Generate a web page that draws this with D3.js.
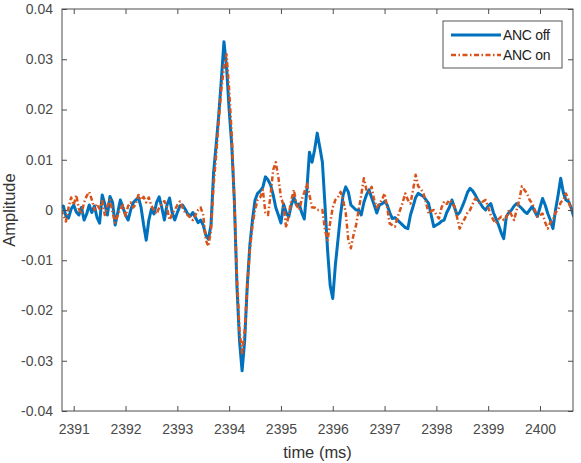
<!DOCTYPE html>
<html><head><meta charset="utf-8">
<script src="https://cdn.jsdelivr.net/npm/d3@7"></script>
<style>body{margin:0;background:#fff}</style>
</head><body><svg id="c" width="581" height="463"></svg>
<script>
// sampling grid of the recording (ms)
const t0 = 2390.75, dt = 0.05;

// ANC off (blue, solid)
const ancOff = [
 0.0005, 0.0008,-0.0012,-0.0016, 0.0002, 0.0010,-0.0004,-0.0010, 0.0005,-0.0020,
-0.0008, 0.0010,-0.0005, 0.0008,-0.0015,-0.0026, 0.0030, 0.0012,-0.0010, 0.0027,
 0.0015,-0.0030,-0.0005, 0.0020, 0.0005,-0.0010,-0.0020, 0.0000, 0.0015, 0.0020,
 0.0025, 0.0005,-0.0030,-0.0060,-0.0020, 0.0002,-0.0008, 0.0015, 0.0026, 0.0005,
-0.0020, 0.0010, 0.0024,-0.0005,-0.0020,-0.0005, 0.0008, 0.0010, 0.0002,-0.0008,
-0.0012,-0.0005,-0.0015,-0.0025,-0.0020,-0.0030,-0.0050,-0.0058,-0.0030, 0.0075,
 0.0130, 0.0190, 0.0260, 0.0335, 0.0285, 0.0200, 0.0130, 0.0020,-0.0150,-0.0260,
-0.0320,-0.0260,-0.0150,-0.0070,-0.0020, 0.0020, 0.0033, 0.0038, 0.0045, 0.0066,
 0.0060, 0.0050, 0.0030, 0.0005,-0.0010,-0.0026, 0.0012,-0.0005,-0.0014, 0.0010,
 0.0025, 0.0010, 0.0012,-0.0005,-0.0018, 0.0040, 0.0115, 0.0095, 0.0120, 0.0153,
 0.0125, 0.0095, 0.0010,-0.0080,-0.0150,-0.0176,-0.0110,-0.0060,-0.0010, 0.0030,
 0.0046, 0.0036, 0.0010, 0.0005, 0.0000, 0.0000,-0.0010, 0.0015, 0.0030, 0.0040,
 0.0025, 0.0010,-0.0006, 0.0010, 0.0012, 0.0017, 0.0010,-0.0005,-0.0017,-0.0015,
-0.0020,-0.0025,-0.0030,-0.0035,-0.0037,-0.0010, 0.0007, 0.0025, 0.0033, 0.0030,
 0.0027, 0.0020, 0.0013,-0.0010,-0.0033,-0.0030,-0.0027,-0.0022,-0.0020,-0.0005,
 0.0005, 0.0020, 0.0005,-0.0010,-0.0005, 0.0007, 0.0020, 0.0035, 0.0043, 0.0038,
 0.0030, 0.0020, 0.0013, 0.0005, 0.0000, 0.0008, 0.0013,-0.0005,-0.0017,-0.0030,
-0.0045,-0.0057,-0.0013,-0.0005, 0.0000, 0.0008, 0.0013, 0.0008, 0.0003,-0.0003,
-0.0007, 0.0000, 0.0007,-0.0003,-0.0013, 0.0005, 0.0023, 0.0010,-0.0007,-0.0020,
-0.0037, 0.0000, 0.0030, 0.0063, 0.0035, 0.0020, 0.0017, 0.0005,-0.0013
];

// ANC on (orange, dash-dot)
const ancOn = [
 0.0000,-0.0010,-0.0023, 0.0005, 0.0025, 0.0010, 0.0030, 0.0002,-0.0008, 0.0015,
 0.0028, 0.0036, 0.0020, 0.0000, 0.0012, 0.0002, 0.0018,-0.0010, 0.0008, 0.0020,
-0.0005,-0.0025,-0.0010, 0.0002, 0.0010,-0.0012, 0.0008, 0.0015, 0.0005, 0.0012,
 0.0030, 0.0020, 0.0026, 0.0015, 0.0025, 0.0008, 0.0000,-0.0008, 0.0005, 0.0012,
 0.0018, 0.0005,-0.0020,-0.0008, 0.0000, 0.0010, 0.0017, 0.0005,-0.0005,-0.0010,
-0.0015,-0.0020,-0.0010, 0.0000, 0.0005,-0.0010,-0.0060,-0.0072,-0.0040, 0.0050,
 0.0110, 0.0180, 0.0240, 0.0285, 0.0310, 0.0240, 0.0150, 0.0020,-0.0130,-0.0240,
-0.0285,-0.0240,-0.0150,-0.0080,-0.0030, 0.0000, 0.0020, 0.0025, 0.0040,-0.0005,
-0.0010, 0.0030, 0.0080, 0.0095, 0.0065, 0.0025, 0.0010,-0.0035,-0.0010, 0.0020,
 0.0040, 0.0010, 0.0000, 0.0020, 0.0035, 0.0052, 0.0030, 0.0005, 0.0005, 0.0000,
 0.0000, 0.0000,-0.0040,-0.0060,-0.0025, 0.0005, 0.0020, 0.0025, 0.0036, 0.0020,
-0.0005,-0.0060,-0.0076,-0.0050,-0.0030, 0.0000, 0.0030, 0.0063, 0.0040, 0.0035,
 0.0046, 0.0020, 0.0005, 0.0013, 0.0020, 0.0033, 0.0005,-0.0027,-0.0030,-0.0033,
-0.0015, 0.0000, 0.0015, 0.0033, 0.0020, 0.0013, 0.0040, 0.0070, 0.0047, 0.0042,
 0.0033, 0.0015,-0.0007,-0.0002, 0.0000,-0.0010,-0.0017, 0.0005, 0.0017, 0.0012,
 0.0020, 0.0015, 0.0007,-0.0015,-0.0037,-0.0025,-0.0017,-0.0005, 0.0000, 0.0012,
 0.0023, 0.0018, 0.0013, 0.0017, 0.0020, 0.0005,-0.0010,-0.0020,-0.0027,-0.0018,
-0.0013,-0.0020,-0.0015, 0.0000,-0.0010,-0.0020, 0.0000, 0.0020, 0.0047, 0.0040,
 0.0033, 0.0020, 0.0013, 0.0000,-0.0013,-0.0010,-0.0007,-0.0025,-0.0037,-0.0025,
-0.0020,-0.0005, 0.0000, 0.0015, 0.0020, 0.0033, 0.0020, 0.0000, 0.0005
];

const xTickValues = [2391, 2392, 2393, 2394, 2395, 2396, 2397, 2398, 2399, 2400];
const yTickValues = [-0.04, -0.03, -0.02, -0.01, 0, 0.01, 0.02, 0.03, 0.04];
const seriesNames = ["ANC off", "ANC on"];
const xDomain = [2390.774, 2400.637];
const yDomain = [-0.04, 0.04];

const time = ancOff.map((_, i) => +(t0 + i * dt).toFixed(2));

const L = 62, R = 573, T = 9, B = 411;
const svg = d3.select("#c");
const font = "'Liberation Sans', Arial, sans-serif";
const axisCol = "#4d4d4d", textCol = "#4a4a4a";

const x = d3.scaleLinear().domain(xDomain).range([L, R]);
const y = d3.scaleLinear().domain(yDomain).range([B, T]);

svg.append("defs").append("clipPath").attr("id", "clip")
  .append("rect").attr("x", L).attr("y", T).attr("width", R - L).attr("height", B - T);

const styles = [
  {c: "#0072BD", w: 3, da: null},
  {c: "#D95319", w: 2.5, da: "5,2.5,1.5,2.5"}
];

// data lines
const line = d3.line().x(d => x(d[0])).y(d => y(d[1]));
const g = svg.append("g").attr("clip-path", "url(#clip)");
[ancOff, ancOn].forEach((vals, k) => {
  g.append("path").datum(time.map((t, i) => [t, vals[i]]))
    .attr("d", line).attr("fill", "none").attr("stroke", styles[k].c)
    .attr("stroke-width", styles[k].w).attr("stroke-linejoin", "round")
    .attr("stroke-dasharray", styles[k].da);
});

// axes
function styleAxis(sel, showText) {
  sel.select(".domain").remove();
  sel.selectAll(".tick line").attr("stroke", axisCol).attr("stroke-width", 1);
  sel.selectAll("text").attr("fill", textCol).style("font-family", font).style("font-size", "14px");
  if (!showText) sel.selectAll("text").remove();
}
const fmtY = d => d === 0 ? "0" : d.toFixed(2);
svg.append("g").attr("transform", `translate(0,${B})`)
  .call(d3.axisBottom(x).tickValues(xTickValues).tickSize(-5).tickPadding(13).tickFormat(d3.format("d")))
  .call(s => styleAxis(s, true));
svg.append("g").attr("transform", `translate(0,${T})`)
  .call(d3.axisTop(x).tickValues(xTickValues).tickSize(-5))
  .call(s => styleAxis(s, false));
svg.append("g").attr("transform", `translate(${L},0)`)
  .call(d3.axisLeft(y).tickValues(yTickValues).tickSize(-5).tickPadding(9).tickFormat(fmtY))
  .call(s => styleAxis(s, true));
svg.append("g").attr("transform", `translate(${R},0)`)
  .call(d3.axisRight(y).tickValues(yTickValues).tickSize(-5))
  .call(s => styleAxis(s, false));

svg.append("rect").attr("x", L).attr("y", T).attr("width", R - L).attr("height", B - T)
  .attr("fill", "none").attr("stroke", axisCol).attr("stroke-width", 1);

// axis labels
svg.append("text").attr("x", (L + R) / 2).attr("y", 458).attr("text-anchor", "middle")
  .attr("fill", "#333").style("font-family", font).style("font-size", "16.5px").text("time (ms)");
svg.append("text").attr("transform", `translate(15,${(T + B) / 2}) rotate(-90)`)
  .attr("text-anchor", "middle").attr("fill", "#333")
  .style("font-family", font).style("font-size", "16.5px").text("Amplitude");

// legend
const lg = svg.append("g");
lg.append("rect").attr("x", 443).attr("y", 21).attr("width", 119).attr("height", 47)
  .attr("fill", "#fff").attr("stroke", "#555").attr("stroke-width", 1);
seriesNames.forEach((n, i) => {
  const yy = 35 + i * 20;
  lg.append("line").attr("x1", 451).attr("x2", 501).attr("y1", yy).attr("y2", yy)
    .attr("stroke", styles[i].c).attr("stroke-width", styles[i].w)
    .attr("stroke-dasharray", styles[i].da);
  lg.append("text").attr("x", 503).attr("y", yy).attr("dy", "0.35em")
    .attr("fill", "#222").style("font-family", font).style("font-size", "14px")
    .style("letter-spacing", "-0.3px").text(n);
});
</script>
</body></html>
